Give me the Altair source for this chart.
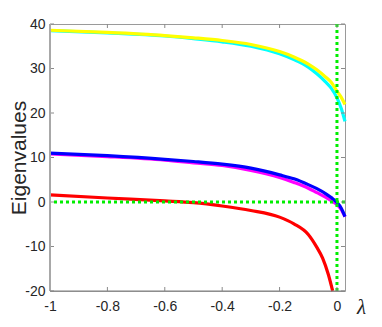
import altair as alt
import pandas as pd

# lambda sample points (x) for the four upper curves
lam = [-1, -0.8, -0.6, -0.5, -0.4, -0.3, -0.2, -0.15, -0.1, -0.07, -0.04, -0.02, 0, 0.015, 0.028]
yellow = [38.6, 38.1, 37.4, 36.9, 36.3, 35.4, 33.8, 32.6, 31.0, 29.7, 28.1, 26.9, 24.9, 23.5, 21.9]
cyan = [38.5, 38.0, 37.3, 36.7, 36.0, 35.0, 33.3, 32.0, 30.3, 28.8, 27.0, 25.6, 23.4, 21.0, 18.1]
blue = [11.0, 10.4, 9.6, 9.1, 8.5, 7.6, 6.1, 5.2, 3.9, 3.0, 1.9, 1.0, -0.1, -1.4, -3.3]
magenta = [10.8, 10.2, 9.4, 8.8, 8.2, 7.1, 5.5, 4.4, 3.1, 2.1, 1.1, 0.3, -0.6, -1.7, -3.3]

# red curve has its own lambda samples
lam_red = [-1, -0.8, -0.6, -0.5, -0.4, -0.3, -0.2, -0.15, -0.1, -0.07, -0.05, -0.03, -0.015]
red = [1.6, 0.9, 0.25, -0.15, -0.9, -1.9, -3.4, -4.9, -7.3, -10.2, -12.6, -16.3, -20.0]

x_ticks = [-1, -0.8, -0.6, -0.4, -0.2, 0]
y_ticks = [-20, -10, 0, 10, 20, 30, 40]
x_domain = [-1, 0.028]
y_domain = [-20, 40]

W, H = 295, 267
FONT = "Liberation Sans"
GRAY = "#8a8a8a"
HYPHEN = "replace(datum.label, '\u2212', '-')"

xs = alt.Scale(domain=x_domain, nice=False, zero=False)
ys = alt.Scale(domain=y_domain, nice=False, zero=False)

series = [
    ("cyan", lam, cyan, "#00ffff"),
    ("yellow", lam, yellow, "#ffff00"),
    ("magenta", lam, magenta, "#ff00ff"),
    ("blue", lam, blue, "#0000ff"),
    ("red", lam_red, red, "#ff0000"),
]

x_axis = alt.Axis(values=x_ticks, format="~g", labelExpr=HYPHEN, labelFlush=False,
                  grid=False, ticks=False, tickSize=0,
                  domain=False, labelFont=FONT, labelFontSize=14, labelColor="#262626",
                  labelPadding=8, title="λ", titleFont="Liberation Serif",
                  titleFontStyle="italic", titleFontWeight="normal", titleFontSize=21,
                  titleColor="#262626", titleX=311, titleY=22, titleAlign="center",
                  titleBaseline="alphabetic", titleAngle=0)
y_axis = alt.Axis(values=y_ticks, format="d", labelExpr=HYPHEN, labelFlush=False,
                  grid=False, ticks=False, tickSize=0,
                  domain=False, labelFont=FONT, labelFontSize=14, labelColor="#262626",
                  labelPadding=5, title="Eigenvalues", titleFont=FONT, titleFontSize=21,
                  titleFontWeight="normal", titleColor="#262626", titleX=-25,
                  titleY=H / 2, titleAngle=-90, titleAlign="center",
                  titleBaseline="alphabetic")


def X(field):
    return alt.X(field, scale=xs, axis=x_axis)


def Y(field):
    return alt.Y(field, scale=ys, axis=y_axis)


layers = []
for name, xv, yv, col in series:
    df = pd.DataFrame({"lam": xv, "val": yv})
    layers.append(
        alt.Chart(df).mark_line(color=col, strokeWidth=3.2, interpolate="monotone",
                                strokeCap="butt")
        .encode(x=X("lam:Q"), y=Y("val:Q"))
    )

xt = pd.DataFrame({"lam": x_ticks})
yt = pd.DataFrame({"val": y_ticks})
tick_style = dict(color=GRAY, strokeWidth=1)
ticks = [
    alt.Chart(xt).mark_rule(**tick_style).encode(
        x=X("lam:Q"), y=alt.value(H - 4), y2=alt.value(H)),
    alt.Chart(xt).mark_rule(**tick_style).encode(
        x=X("lam:Q"), y=alt.value(0), y2=alt.value(4)),
    alt.Chart(yt).mark_rule(**tick_style).encode(
        y=Y("val:Q"), x=alt.value(0), x2=alt.value(4)),
    alt.Chart(yt).mark_rule(**tick_style).encode(
        y=Y("val:Q"), x=alt.value(W - 4), x2=alt.value(W)),
]

zx = pd.DataFrame({"lam": [0]})
zy = pd.DataFrame({"val": [0]})
green = [
    alt.Chart(zy).mark_rule(color="#00ee00", strokeWidth=3, strokeDash=[3, 3])
    .encode(y=Y("val:Q")),
    alt.Chart(zx).mark_rule(color="#00ee00", strokeWidth=3, strokeDash=[3, 3])
    .encode(x=X("lam:Q")),
]

frame = [
    alt.Chart(zx).mark_rule(color="#a8a8a8", strokeWidth=2).encode(
        x=alt.value(0), y=alt.value(0), y2=alt.value(H)),
    alt.Chart(zx).mark_rule(color="#808080", strokeWidth=1.2).encode(
        x=alt.value(0), x2=alt.value(W), y=alt.value(H)),
]

chart = alt.layer(*layers, *green, *ticks, *frame).properties(
    width=W, height=H,
    autosize=alt.AutoSizeParams(type="none"),
    padding={"left": 42, "top": 16, "right": 29, "bottom": 34},
).configure_view(stroke="#9a9a9a", strokeWidth=1)

chart.save("out.html", embed_options={"renderer": "svg", "actions": False})
